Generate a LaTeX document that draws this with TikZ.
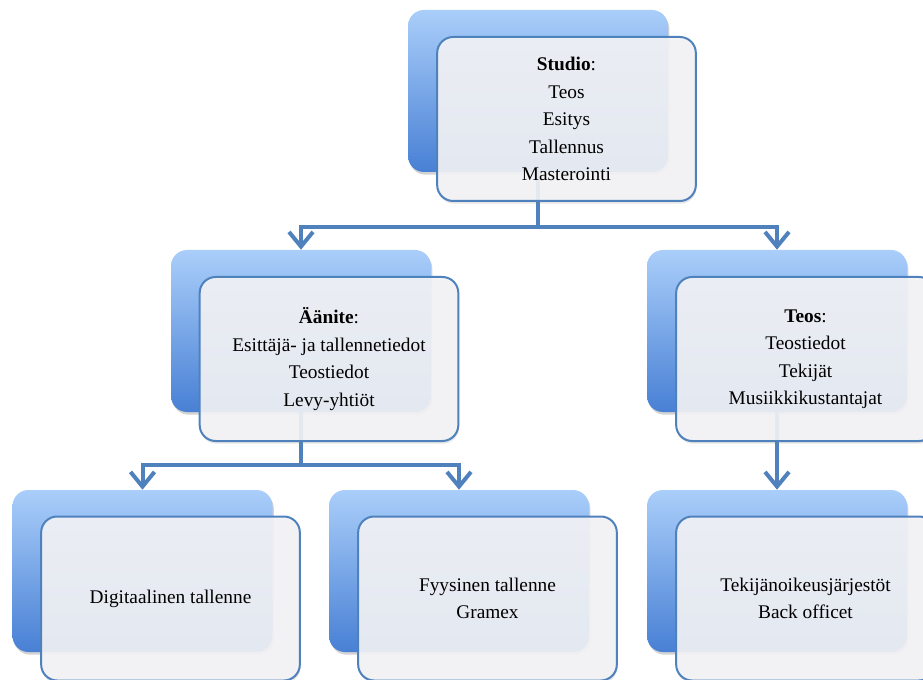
\documentclass[tikz,border=0pt]{standalone}
\usepackage{fontspec}
\setmainfont{Liberation Serif}
\usetikzlibrary{arrows.meta,shadows,positioning}
\definecolor{linkblue}{RGB}{79,129,189}
\definecolor{backtop}{RGB}{170,206,250}
\definecolor{backbot}{RGB}{72,128,212}
\definecolor{frontfill}{RGB}{244,244,246}

\begin{document}
\begin{tikzpicture}[x=0.75pt,y=-0.75pt,
    backbox/.style={rounded corners=12pt, minimum width=195pt, minimum height=121.5pt,
      top color=backtop, bottom color=backbot, draw=none,
      drop shadow={opacity=0.35,shadow xshift=1pt,shadow yshift=-2pt}},
    frontbox/.style={rounded corners=12pt, minimum width=194pt, minimum height=123pt,
      draw=linkblue, line width=1.5pt, fill=frontfill, fill opacity=0.9, text opacity=1,
      drop shadow={opacity=0.2,shadow xshift=0.5pt,shadow yshift=-2pt},
      align=center, font=\fontsize{14.5}{20.6}\selectfont},
    link/.style={draw=linkblue, line width=3pt},
    arrowed/.style={-{Straight Barb[length=11pt,width=18pt]}}]
  \useasboundingbox (0,0) rectangle (923,680);
  \clip (0,0) rectangle (923,680);

  % Back boxes
  \node[backbox] (studioback) at (538,91) {};
  \node[backbox] (aaniteback) at (301,331) {};
  \node[backbox] (teosback) at (777,331) {};
  \node[backbox] (digiback) at (142.5,571) {};
  \node[backbox] (fyysback) at (459,571) {};
  \node[backbox] (tekback) at (777,571) {};

  % Connectors
  \draw[link] (studioback.south) -- ++(0,55) coordinate (split1);
  \draw[link, arrowed] (split1) -| (aaniteback.north);
  \draw[link, arrowed] (split1) -| (teosback.north);
  \draw[link] (aaniteback.south) -- ++(0,53) coordinate (split2);
  \draw[link, arrowed] (split2) -| (digiback.north);
  \draw[link, arrowed] (split2) -| (fyysback.north);
  \draw[link, arrowed] (teosback.south) -- (tekback.north);

  % Front boxes with the texts
  \node[frontbox] (studio) at (566.5,119) {\textbf{Studio}:\\Teos\\Esitys\\Tallennus\\Masterointi};
  \node[frontbox] (aanite) at (329,359) {\textbf{Äänite}:\\Esittäjä- ja tallennetiedot\\Teostiedot\\Levy-yhtiöt};
  \node[frontbox] (teos) at (805.5,359) {\textbf{Teos}:\\Teostiedot\\Tekijät\\Musiikkikustantajat};
  \node[frontbox] (digi) at (170.5,598.5) {Digitaalinen tallenne};
  \node[frontbox] (fyys) at (487.5,598.5) {Fyysinen tallenne\\Gramex};
  \node[frontbox] (tek) at (805.5,598.5) {Tekijänoikeusjärjestöt\\Back officet};
\end{tikzpicture}
\end{document}
